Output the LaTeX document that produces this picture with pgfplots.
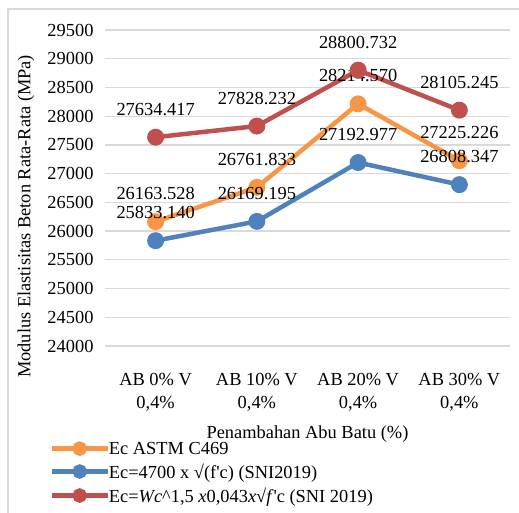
\documentclass[border=0pt]{standalone}
\usepackage{pgfplots}
\pgfplotsset{compat=1.18}
\usepackage{fontspec}
\setmainfont{Liberation Serif}
\definecolor{cOrange}{HTML}{F79646}
\definecolor{cBlue}{HTML}{4F81BD}
\definecolor{cRed}{HTML}{C0504D}
\definecolor{cGrid}{HTML}{D9D9D9}
\newcommand{\chartfont}{\fontsize{18.4bp}{23bp}\selectfont}
\begin{document}
\begin{tikzpicture}
\begin{axis}[
    at={(0,0)}, anchor=south west,
    scale only axis,
    width=405bp, height=316bp,
    xmin=-0.5, xmax=3.5,
    ymin=24000, ymax=29500,
    xtick={0,1,2,3},
    xticklabels={{AB 0\% V\\0,4\%},{AB 10\% V\\0,4\%},{AB 20\% V\\0,4\%},{AB 30\% V\\0,4\%}},
    ytick={24000,24500,...,29500},
    scaled y ticks=false,
    yticklabel style={/pgf/number format/fixed, /pgf/number format/precision=0},
    /pgf/number format/assume math mode=true,
    /pgf/number format/set thousands separator={},
    axis line style={draw=none},
    tick style={draw=none},
    ymajorgrids,
    grid style={cGrid, line width=1.2bp},
    tick label style={font=\chartfont},
    xticklabel style={align=center, yshift=-24bp},
    yticklabel style={xshift=-8bp},
    xlabel={Penambahan Abu Batu (\%)},
    ylabel={Modulus Elastisitas Beton Rata-Rata (MPa)},
    label style={font=\chartfont},
    xlabel style={at={(axis description cs:0.5,-0.278)}, anchor=center},
    ylabel style={at={(axis description cs:-0.195,0.41)}, anchor=center, rotate=0},
    every axis plot/.append style={line width=4.5bp, mark=*, mark size=6.2bp},
    point meta=explicit symbolic,
    nodes near coords,
    nodes near coords style={font=\chartfont, anchor=center, yshift=28bp, text=black},
    legend cell align=left,
    legend style={at={(axis description cs:-0.145,-0.29)}, anchor=north west,
        draw=none, fill=none, font=\chartfont, row sep=4bp,
        /tikz/every even column/.append style={column sep=0bp},
        /tikz/every odd column/.append style={column sep=-3bp}},
    legend image code/.code={
        \draw[mark repeat=2, mark phase=2, #1, mark size=5bp] plot coordinates {(0bp,0bp) (28bp,0bp) (56bp,0bp)};
    },
]
\addplot[color=cOrange] coordinates {
    (0,26163.528) [26163.528]
    (1,26761.833) [26761.833]
    (2,28214.570) [28214.570]
    (3,27225.226) [27225.226]
};
\addlegendentry{Ec ASTM C469}
\addplot[color=cBlue] coordinates {
    (0,25833.140) [25833.140]
    (1,26169.195) [26169.195]
    (2,27192.977) [27192.977]
    (3,26808.347) [26808.347]
};
\addlegendentry{Ec=4700 x √(f\textquotesingle c) (SNI2019)}
\addplot[color=cRed] coordinates {
    (0,27634.417) [27634.417]
    (1,27828.232) [27828.232]
    (2,28800.732) [28800.732]
    (3,28105.245) [28105.245]
};
\addlegendentry{Ec=\textit{Wc}\textasciicircum1,5 \textit{x}0,043\textit{x}√\textit{f}\textquotesingle c (SNI 2019)}
\end{axis}
\draw[cGrid, line width=1.5bp] (-97bp,-170bp) -- (-97bp,337bp) -- (420bp,337bp);
\pgfresetboundingbox
\useasboundingbox (-105bp,-167bp) rectangle (414bp,346bp);
\end{tikzpicture}
\end{document}
